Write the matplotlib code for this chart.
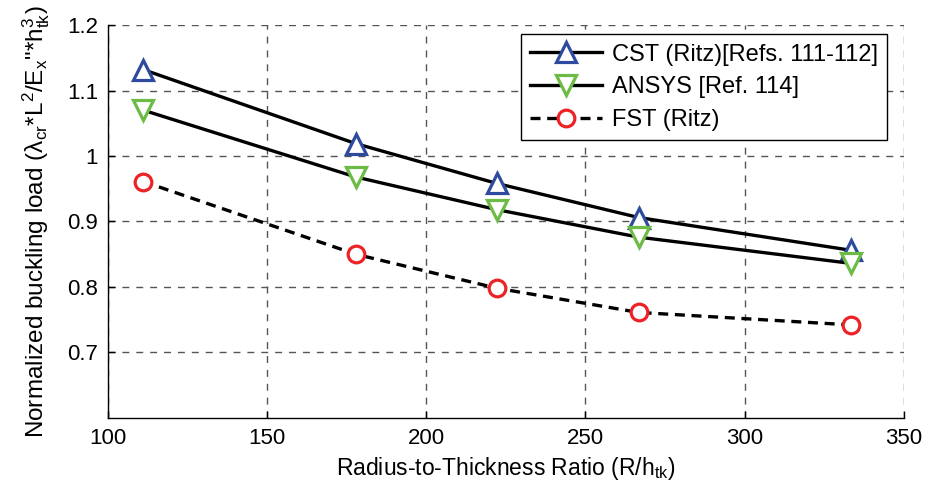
import matplotlib
matplotlib.use("Agg")
from matplotlib import pyplot as plt

# radius-to-thickness ratios of the shells
ratio = [111.1, 177.8, 222.2, 266.7, 333.3]

# normalized buckling loads
cst_ritz = [1.132, 1.019, 0.958, 0.906, 0.856]
ansys = [1.070, 0.968, 0.918, 0.876, 0.836]
fst_ritz = [0.961, 0.850, 0.798, 0.761, 0.742]

labels = ["CST (Ritz)[Refs. 111-112]", "ANSYS [Ref. 114]", "FST (Ritz)"]

plt.rcParams["font.family"] = ["Liberation Sans", "DejaVu Sans"]
plt.rcParams["mathtext.default"] = "regular"

fig = plt.figure(figsize=(9.29, 4.91), dpi=100)
ax = fig.add_axes([0.116, 0.149, 0.857, 0.800])

ax.plot(ratio, cst_ritz, color="black", lw=2.4, marker="^", ms=14,
        mfc="white", mec="#2e4a9e", mew=2.3, label=labels[0])
ax.plot(ratio, ansys, color="black", lw=2.4, marker="v", ms=14,
        mfc="white", mec="#6cbb45", mew=2.3, label=labels[1])
ax.plot(ratio, fst_ritz, color="black", lw=2.4, ls=(0, (3, 2)), marker="o",
        ms=12, mfc="white", mec="#ec2227", mew=2.3, label=labels[2])

ax.set_xlim(100, 350)
ax.set_ylim(0.6, 1.2)
ax.set_xticks([100, 150, 200, 250, 300, 350])
ax.set_yticks([0.7, 0.8, 0.9, 1.0, 1.1, 1.2])
ax.set_yticklabels(["0.7", "0.8", "0.9", "1", "1.1", "1.2"])

ax.grid(True, color="#555555", ls=(0, (5, 5)), lw=1.0)
ax.set_axisbelow(True)
ax.spines["top"].set_visible(False)
ax.spines["right"].set_visible(False)
for side in ("left", "bottom"):
    ax.spines[side].set_linewidth(1.0)
ax.tick_params(direction="in", length=5, width=1.0, labelsize=16)
ax.tick_params(axis="x", pad=7)
ax.tick_params(axis="y", pad=7)

ax.set_xlabel("Radius-to-Thickness Ratio (R/h$_{tk}$)", fontsize=16.5)
ax.xaxis.set_label_coords(0.5, -0.095)
ax.set_ylabel("Normalized buckling load (λ$_{cr}$*L$^{2}$/E$_{x}$\"*h$^{3}_{tk}$)",
              fontsize=17.5, labelpad=11)

leg = ax.legend(loc="upper right", bbox_to_anchor=(0.979, 0.977),
                borderaxespad=0, fontsize=17, fancybox=False, framealpha=1,
                edgecolor="black", handlelength=3.05, handletextpad=0.4,
                borderpad=0.4, labelspacing=0.45)
leg.get_frame().set_linewidth(1.0)

fig.savefig("out.png", dpi=100)
